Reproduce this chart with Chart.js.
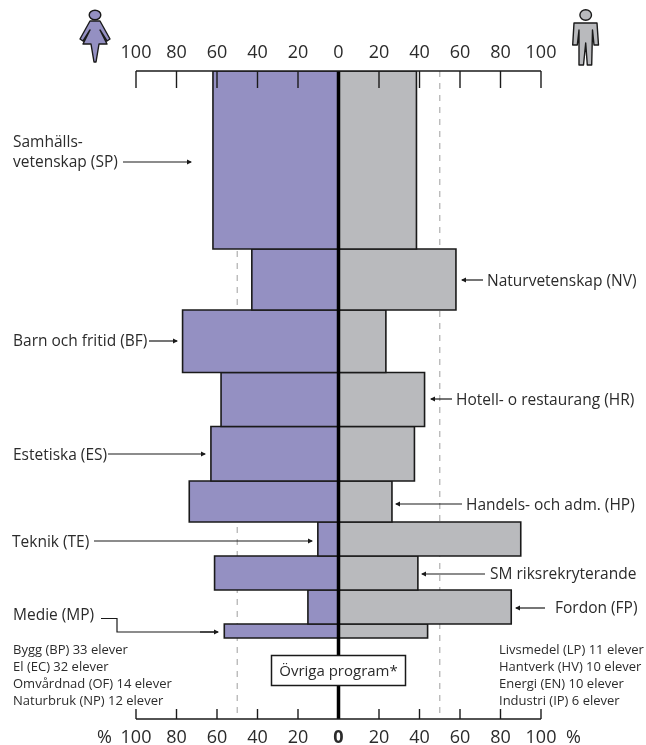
<!DOCTYPE html>
<html>
<head>
<meta charset="utf-8">
<style>
  html, body { margin: 0; padding: 0; background: #fff; }
  #wrap { position: relative; width: 646px; height: 745px; }
</style>
<script src="https://cdn.jsdelivr.net/npm/chart.js@4"></script>
</head>
<body>
<div id="wrap"><canvas id="chart" width="646" height="745"></canvas></div>
<script>
// share of girls / boys per programme (percent), top to bottom
const programs = ['SP', 'NV', 'BF', 'HR', 'ES', 'HP', 'TE', 'SM', 'FP', 'MP'];
const girlsPct = [62, 42.8, 77, 58, 63, 73.7, 10.2, 61.2, 15.1, 56.4];
const boysPct = [38.5, 58, 23.4, 42.5, 37.5, 26.4, 90, 39.2, 85.3, 44];
// band thickness follows programme size
const programSize = [178, 61, 62.5, 54, 54.5, 41, 34, 34, 34, 14];
const tickValues = [-100, -80, -60, -40, -20, 0, 20, 40, 60, 80, 100];
const dashedRefs = [-50, 50];
const axisDepth = 648;

const font = '"Open Sans", "Noto Sans", sans-serif';
const purple = '#9490c2';
const grey = '#b9babd';
const ink = '#1a1a1a';
const textInk = '#2b2b2b';

// closed rectangle per programme, stacked downwards
let edge = 0;
const bands = programSize.map(size => { const b = [edge, edge + size]; edge += size; return b; });
function box(v, b) {
  return [{x: 0, y: b[0]}, {x: v, y: b[0]}, {x: v, y: b[1]}, {x: 0, y: b[1]}, {x: 0, y: b[0]}];
}

const datasets = [];
dashedRefs.forEach(v => datasets.push({
  data: [{x: v, y: 0}, {x: v, y: axisDepth}],
  borderColor: '#b5b5b5', borderWidth: 1.3, borderDash: [6, 6], pointRadius: 0, order: 5
}));
programs.forEach((p, i) => {
  datasets.push({
    label: p + ' flickor',
    data: box(-girlsPct[i], bands[i]),
    borderColor: ink, backgroundColor: purple, borderWidth: 1.6,
    fill: 'shape', pointRadius: 0, tension: 0, order: 2
  });
  datasets.push({
    label: p + ' pojkar',
    data: box(boysPct[i], bands[i]),
    borderColor: ink, backgroundColor: grey, borderWidth: 1.6,
    fill: 'shape', pointRadius: 0, tension: 0, order: 2
  });
});
datasets.push({
  data: [{x: 0, y: 0}, {x: 0, y: axisDepth}],
  borderColor: '#000', borderWidth: 3.5, pointRadius: 0, order: 1
});

// label text, x, baseline y
const labels = [
  ['Samhälls-', 13, 147],
  ['vetenskap (SP)', 13, 167],
  ['Naturvetenskap (NV)', 487, 286],
  ['Barn och fritid (BF)', 13, 346],
  ['Hotell- o restaurang (HR)', 456, 405],
  ['Estetiska (ES)', 13, 460],
  ['Handels- och adm. (HP)', 466, 510],
  ['Teknik (TE)', 12, 547],
  ['SM riksrekryterande', 490, 579],
  ['Fordon (FP)', 555, 613],
  ['Medie (MP)', 13, 620]
];
const smallLeft = ['Bygg (BP) 33 elever', 'El (EC) 32 elever', 'Omvårdnad (OF) 14 elever', 'Naturbruk (NP) 12 elever'];
const smallRight = ['Livsmedel (LP) 11 elever', 'Hantverk (HV) 10 elever', 'Energi (EN) 10 elever', 'Industri (IP) 6 elever'];
// arrows: from x, to x, y
const arrows = [
  [123, 192, 162], [483, 461, 280], [149, 178, 341], [452, 430, 399], [108, 206, 454],
  [462, 395, 504], [94, 313, 541], [485, 421, 574], [545, 515, 608]
];

function arrow(ctx, x0, x1, y) {
  const d = x1 > x0 ? 1 : -1;
  ctx.beginPath(); ctx.moveTo(x0, y); ctx.lineTo(x1 - d, y); ctx.stroke();
  ctx.beginPath(); ctx.moveTo(x1, y); ctx.lineTo(x1 - 5 * d, y - 2.6); ctx.lineTo(x1 - 5 * d, y + 2.6); ctx.closePath(); ctx.fill();
}

function woman(ctx) {
  ctx.fillStyle = purple; ctx.strokeStyle = ink; ctx.lineWidth = 1.4; ctx.lineJoin = 'round';
  ctx.beginPath(); ctx.ellipse(95, 15, 5.8, 4.8, 0, 0, 7); ctx.fill(); ctx.stroke();
  const body = new Path2D('M90 21 L100 21 L110 39 L107 41 L100 30 L107 44 L99 44 L96 62 L94 62 L91 44 L83 44 L90 30 L83 41 L80 39 Z');
  ctx.fill(body); ctx.stroke(body);
}

function man(ctx) {
  ctx.fillStyle = grey; ctx.strokeStyle = ink; ctx.lineWidth = 1.4; ctx.lineJoin = 'round';
  ctx.beginPath(); ctx.ellipse(585.7, 15, 5.8, 5.2, 0, 0, 7); ctx.fill(); ctx.stroke();
  const body = new Path2D('M574 23 L597 23 L598.5 45 L594 45 L592.5 30 L591.7 65 L587.3 65 L585.7 43 L583.5 65 L579 65 L579 30 L577.3 45 L572.7 45 Z');
  ctx.fill(body); ctx.stroke(body);
}

const decorations = {
  id: 'decorations',
  afterDatasetsDraw(chart) {
    const ctx = chart.ctx;
    const top = chart.scales.xTop, bottom = chart.scales.x;
    const yTop = chart.scales.y.top, yBottom = chart.scales.y.bottom;
    ctx.save();
    // axis lines and ticks sit on top of the bars
    ctx.strokeStyle = ink; ctx.lineWidth = 1.4;
    ctx.beginPath(); ctx.moveTo(top.left, yTop); ctx.lineTo(top.right, yTop); ctx.stroke();
    ctx.beginPath(); ctx.moveTo(bottom.left, yBottom); ctx.lineTo(bottom.right, yBottom); ctx.stroke();
    tickValues.forEach(v => {
      if (v === 0) return;
      const px = top.getPixelForValue(v);
      ctx.beginPath(); ctx.moveTo(px, yTop); ctx.lineTo(px, yTop + 17); ctx.stroke();
      ctx.beginPath(); ctx.moveTo(px, yBottom); ctx.lineTo(px, yBottom - 10); ctx.stroke();
    });

    // text labels
    ctx.fillStyle = textInk; ctx.textBaseline = 'alphabetic';
    ctx.font = '15.5px ' + font;
    ctx.textAlign = 'left';
    labels.forEach(l => ctx.fillText(l[0], l[1], l[2]));
    ctx.font = '13px ' + font;
    smallLeft.forEach((t, i) => ctx.fillText(t, 13, 654 + i * 17));
    smallRight.forEach((t, i) => ctx.fillText(t, 499, 654 + i * 17));

    // arrows
    ctx.strokeStyle = ink; ctx.fillStyle = ink; ctx.lineWidth = 1.2;
    arrows.forEach(a => arrow(ctx, a[0], a[1], a[2]));
    ctx.beginPath(); ctx.moveTo(101, 618.5); ctx.lineTo(117, 618.5); ctx.lineTo(117, 632); ctx.lineTo(216, 632); ctx.stroke();
    arrow(ctx, 200, 219, 632);

    // box for the small programmes
    ctx.fillStyle = '#fff'; ctx.strokeStyle = ink; ctx.lineWidth = 1.5;
    ctx.fillRect(271.5, 655.5, 134, 30); ctx.strokeRect(271.5, 655.5, 134, 30);
    ctx.fillStyle = textInk; ctx.font = '15px ' + font; ctx.textAlign = 'center';
    ctx.fillText('Övriga program*', 338.5, 676);

    // percent signs next to bottom axis
    ctx.font = '18px ' + font;
    ctx.textAlign = 'left';
    ctx.fillText('%', 97, 743);
    ctx.fillText('%', 566, 743);

    woman(ctx);
    man(ctx);
    ctx.restore();
  }
};

function absTick(v) { return Math.abs(v); }
function pickTicks(axis) { axis.ticks = tickValues.map(v => ({value: v})); }

new Chart(document.getElementById('chart'), {
  type: 'line',
  data: {datasets},
  plugins: [decorations],
  options: {
    responsive: false,
    animation: false,
    parsing: false,
    layout: {padding: {left: 136, right: 105, top: 41, bottom: 0}},
    plugins: {legend: {display: false}, tooltip: {enabled: false}},
    scales: {
      y: {type: 'linear', reverse: true, min: 0, max: axisDepth, display: false},
      x: {
        type: 'linear', position: 'bottom', min: -100, max: 100,
        afterBuildTicks: pickTicks,
        afterFit: axis => { axis.height = 26; },
        grid: {display: false, drawTicks: false},
        border: {display: false},
        ticks: {
          callback: absTick, padding: 8, maxRotation: 0, autoSkip: false,
          color: textInk,
          font: ctx => ({family: font, size: 18, weight: ctx.tick && ctx.tick.value === 0 ? '700' : '400'})
        }
      },
      xTop: {
        type: 'linear', position: 'top', min: -100, max: 100,
        afterBuildTicks: pickTicks,
        afterFit: axis => { axis.height = 30; },
        grid: {display: false, drawTicks: false},
        border: {display: false},
        ticks: {
          callback: absTick, padding: 7, maxRotation: 0, autoSkip: false,
          color: textInk,
          font: {family: font, size: 18}
        }
      }
    }
  }
});
</script>
</body>
</html>
